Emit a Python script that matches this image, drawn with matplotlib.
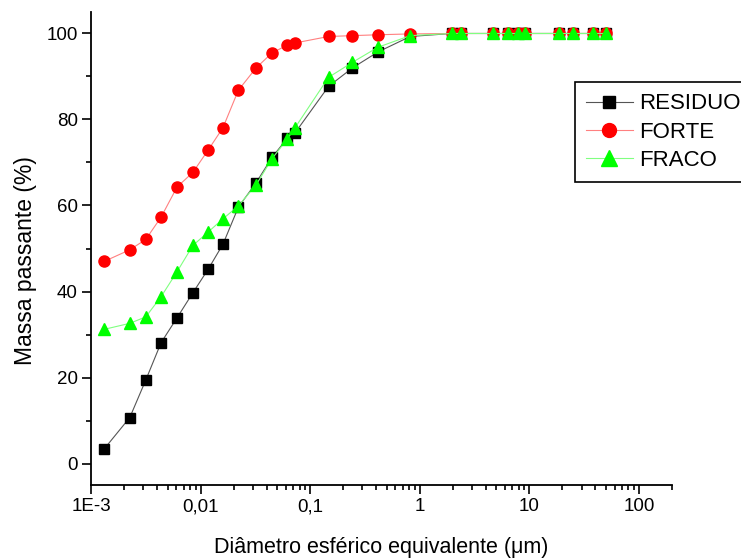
"""
Curva de massa passante x diametro esferico equivalente (sedigrafo)
"""

import matplotlib
matplotlib.use('Agg')
import matplotlib.pyplot as plt
from matplotlib.ticker import FixedLocator, FixedFormatter, LogLocator, NullFormatter

plt.rcParams['font.family'] = ['Liberation Sans', 'DejaVu Sans']

diametro = [0.00132, 0.00226, 0.00316, 0.00436, 0.0061, 0.0085, 0.0118, 0.016,
            0.0221, 0.0321, 0.0449, 0.062, 0.0728, 0.147, 0.243, 0.415, 0.817,
            1.96, 2.39, 4.65, 6.32, 7.91, 9.17, 18.8, 24.8, 38.0, 50.0]

residuo = [3.4, 10.7, 19.4, 28.1, 33.9, 39.7, 45.3, 51.0, 59.6, 65.3, 71.2, 75.7,
           76.9, 87.7, 92.0, 95.7, 99.3, 100, 100, 100, 100, 100, 100, 100, 100,
           100, 100]
forte = [47.0, 49.7, 52.1, 57.3, 64.3, 67.7, 73.0, 78.1, 86.8, 92.0, 95.5, 97.3,
         97.8, 99.3, 99.5, 99.7, 99.9, 100, 100, 100, 100, 100, 100, 100, 100,
         100, 100]
fraco = [31.2, 32.6, 34.1, 38.8, 44.6, 50.7, 53.9, 56.9, 59.9, 64.8, 70.9, 75.5,
         78.1, 89.8, 93.3, 96.8, 99.5, 100, 100, 100, 100, 100, 100, 100, 100,
         100, 100]

x_ticks = [1e-3, 1e-2, 1e-1, 1, 10, 100]
x_labels = ['1E-3', '0,01', '0,1', '1', '10', '100']
y_ticks = [0, 20, 40, 60, 80, 100]


fig = plt.figure(figsize=(7.41, 5.60), dpi=100)
ax = fig.add_axes([0.1228, 0.1339, 0.7841, 0.8447])

ax.plot(diametro, residuo, color='#555555', linewidth=0.8, marker='s',
        markersize=6.5, markerfacecolor='black', markeredgecolor='black',
        label='RESIDUO')
ax.plot(diametro, forte, color='#ff8080', linewidth=0.8, marker='o',
        markersize=8, markerfacecolor='red', markeredgecolor='red',
        label='FORTE')
ax.plot(diametro, fraco, color='#80ff80', linewidth=0.8, marker='^',
        markersize=9, markerfacecolor='#00ff00', markeredgecolor='#00ff00',
        label='FRACO')

ax.set_xscale('log')
ax.set_xlim(1e-3, 200)
ax.set_ylim(-5, 105)

ax.xaxis.set_major_locator(FixedLocator(x_ticks))
ax.xaxis.set_major_formatter(FixedFormatter(x_labels))
ax.xaxis.set_minor_locator(LogLocator(base=10, subs=range(2, 10), numticks=20))
ax.xaxis.set_minor_formatter(NullFormatter())
ax.yaxis.set_major_locator(FixedLocator(y_ticks))
ax.yaxis.set_minor_locator(FixedLocator([10, 30, 50, 70, 90]))

for side in ['top', 'right']:
    ax.spines[side].set_visible(False)
for side in ['left', 'bottom']:
    ax.spines[side].set_linewidth(1.3)

ax.tick_params(which='major', direction='out', length=6.5, width=1.2,
               labelsize=13.5, pad=3)
ax.tick_params(which='minor', direction='out', length=3.5, width=1.2)

ax.set_xlabel('Diâmetro esférico equivalente (μm)', fontsize=15.5, labelpad=16)
ax.set_ylabel('Massa passante (%)', fontsize=16.5)
ax.yaxis.set_label_coords(-0.093, 0.474)

leg = ax.legend(loc='upper left', bbox_to_anchor=(0.776, 0.853),
                bbox_transform=fig.transFigure, fontsize=16, frameon=True,
                fancybox=False, edgecolor='black', framealpha=1,
                handlelength=2.1, handletextpad=0.3, borderpad=0.5,
                labelspacing=0.33, borderaxespad=0, markerscale=1.25)
leg.get_frame().set_linewidth(1.2)

fig.savefig('out.png', dpi=100)
